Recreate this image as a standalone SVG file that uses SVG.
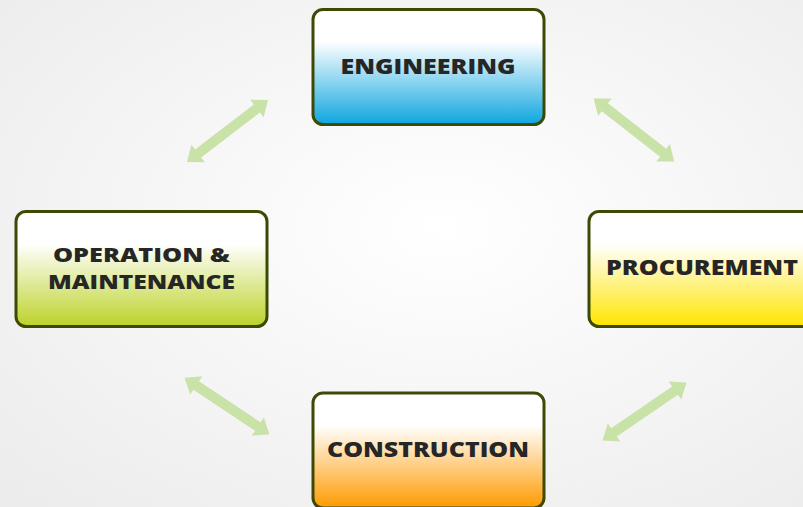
<svg xmlns="http://www.w3.org/2000/svg" xmlns:xlink="http://www.w3.org/1999/xlink" width="803" height="507" viewBox="0 0 803 507">
<defs>
<radialGradient id="bg" cx="0.55" cy="0.45" r="0.75">
<stop offset="0" stop-color="#ffffff"/>
<stop offset="1" stop-color="#ececec"/>
</radialGradient>
<linearGradient id="gBlue" x1="0" y1="0" x2="0" y2="1">
<stop offset="0" stop-color="#ffffff"/>
<stop offset="0.28" stop-color="#ffffff"/>
<stop offset="1" stop-color="#0ea6df"/>
</linearGradient>
<linearGradient id="gGreen" x1="0" y1="0" x2="0" y2="1">
<stop offset="0" stop-color="#ffffff"/>
<stop offset="0.28" stop-color="#ffffff"/>
<stop offset="1" stop-color="#bcd228"/>
</linearGradient>
<linearGradient id="gYellow" x1="0" y1="0" x2="0" y2="1">
<stop offset="0" stop-color="#ffffff"/>
<stop offset="0.28" stop-color="#ffffff"/>
<stop offset="1" stop-color="#ffe500"/>
</linearGradient>
<linearGradient id="gOrange" x1="0" y1="0" x2="0" y2="1">
<stop offset="0" stop-color="#ffffff"/>
<stop offset="0.28" stop-color="#ffffff"/>
<stop offset="1" stop-color="#ff9a00"/>
</linearGradient>
<path id="dbl" d="M-51,0 L-37,-11 L-37,-5 L37,-5 L37,-11 L51,0 L37,11 L37,5 L-37,5 L-37,11 Z"/>
</defs>
<style>
.box { stroke: #3d4a05; stroke-width: 3; }
.lbl { font-family: "Open Sans", "Liberation Sans", sans-serif; font-weight: 800; font-size: 21px; fill: #262626; text-anchor: middle; }
.sm { font-size: 20px; }
.arr { fill: #c8e2a8; }
</style>
<rect x="0" y="0" width="803" height="507" fill="url(#bg)"/>
<g id="connectors">
<use xlink:href="#dbl" class="arr" transform="translate(227.5,131) rotate(-37.4)"/>
<use xlink:href="#dbl" class="arr" transform="translate(634,130) rotate(38)"/>
<use xlink:href="#dbl" class="arr" transform="translate(227,406) rotate(33.7)"/>
<use xlink:href="#dbl" class="arr" transform="translate(644.5,411.5) rotate(-34.5)"/>
</g>
<g id="engineering">
<rect class="box" x="313" y="9.5" width="231" height="115" rx="10" fill="url(#gBlue)"/>
<text class="lbl" x="428" y="74" textLength="175" lengthAdjust="spacingAndGlyphs">ENGINEERING</text>
</g>
<g id="operation">
<rect class="box" x="16" y="211.5" width="251" height="115" rx="10" fill="url(#gGreen)"/>
<text class="lbl sm" x="141.5" y="262" textLength="177" lengthAdjust="spacingAndGlyphs">OPERATION &amp;</text>
<text class="lbl sm" x="141.5" y="289" textLength="187" lengthAdjust="spacingAndGlyphs">MAINTENANCE</text>
</g>
<g id="procurement">
<rect class="box" x="589" y="211.5" width="251" height="115" rx="10" fill="url(#gYellow)"/>
<text class="lbl" x="702" y="275" textLength="192" lengthAdjust="spacingAndGlyphs">PROCUREMENT</text>
</g>
<g id="construction">
<rect class="box" x="313" y="393" width="231" height="115" rx="10" fill="url(#gOrange)"/>
<text class="lbl" x="428" y="457" textLength="202" lengthAdjust="spacingAndGlyphs">CONSTRUCTION</text>
</g>
</svg>
